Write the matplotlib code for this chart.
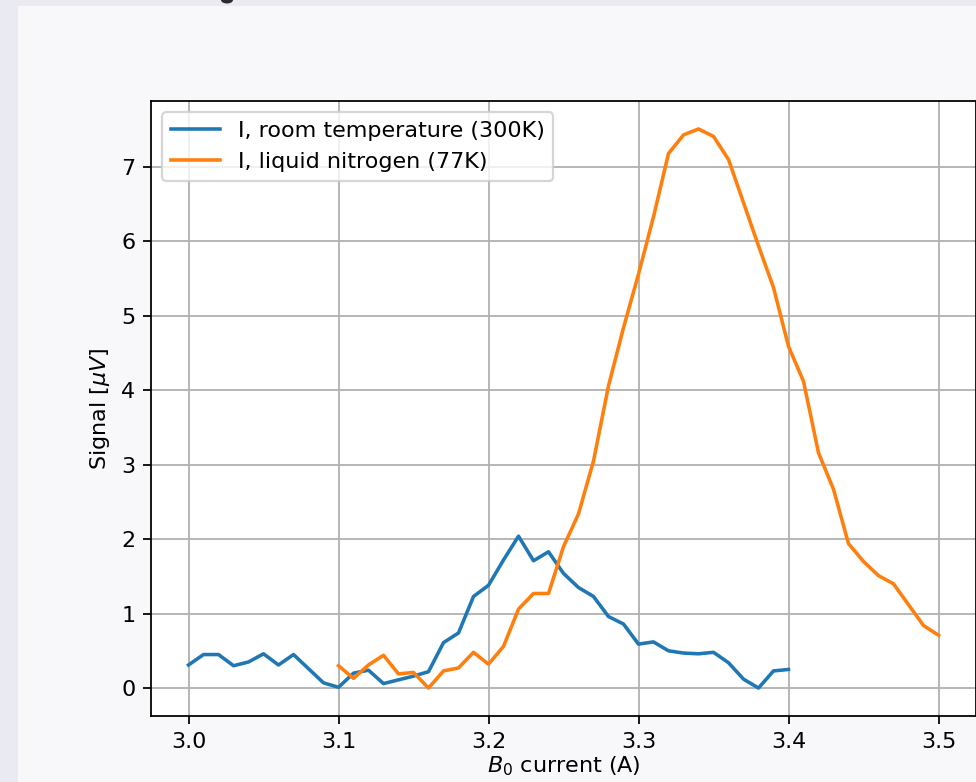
import numpy as np
import matplotlib
matplotlib.use("Agg")
import matplotlib.pyplot as plt
from matplotlib.patches import Rectangle, Ellipse

# B0 current sweeps (A)
current_room = np.round(np.arange(3.00, 3.405, 0.01), 2)
current_ln2 = np.round(np.arange(3.10, 3.505, 0.01), 2)

# signal (uV)
signal_room = [0.31, 0.45, 0.45, 0.30, 0.35, 0.46, 0.31, 0.45, 0.26, 0.07,
               0.01, 0.20, 0.24, 0.06, 0.11, 0.16, 0.22, 0.61, 0.74, 1.23,
               1.38, 1.72, 2.04, 1.71, 1.83, 1.54, 1.35, 1.23, 0.96, 0.86,
               0.59, 0.62, 0.50, 0.47, 0.46, 0.48, 0.34, 0.12, 0.00, 0.23,
               0.25]
signal_ln2 = [0.30, 0.13, 0.31, 0.44, 0.19, 0.21, 0.00, 0.23, 0.27, 0.48,
              0.32, 0.56, 1.06, 1.27, 1.27, 1.90, 2.34, 3.05, 4.06, 4.84,
              5.56, 6.33, 7.18, 7.43, 7.51, 7.41, 7.10, 6.52, 5.94, 5.38,
              4.59, 4.12, 3.16, 2.67, 1.94, 1.70, 1.51, 1.40, 1.12, 0.84,
              0.71]

W, H = 976, 782
DPI = 160
fig = plt.figure(figsize=(W / DPI, H / DPI), dpi=DPI, facecolor="#eaeaf2")
# card behind the plot
fig.patches.append(Rectangle((18 / W, 0), 1 - 18 / W, 1 - 6 / H,
                             transform=fig.transFigure, facecolor="#f8f8fb",
                             edgecolor="none", zorder=-10))
# tail of a heading glyph cut off by the screenshot
fig.patches.append(Ellipse((227 / W, 1), 12 / W, 7 / H,
                           transform=fig.transFigure, facecolor="#2a2a33",
                           edgecolor="none", zorder=-5))

ax = fig.add_axes([151 / W, 66 / H, 825 / W, 615 / H])
ax.set_facecolor("white")
ax.plot(current_room, signal_room, lw=1.6, label="I, room temperature (300K)")
ax.plot(current_ln2, signal_ln2, lw=1.6, label="I, liquid nitrogen (77K)")
ax.set_xlabel("$B_0$ current (A)", labelpad=1.5)
ax.set_ylabel(r"Signal [$\mu V$]")
ax.grid(True)
ax.legend(loc="upper left", handlelength=2.2)

plt.savefig("out.png", dpi=DPI, facecolor=fig.get_facecolor())
